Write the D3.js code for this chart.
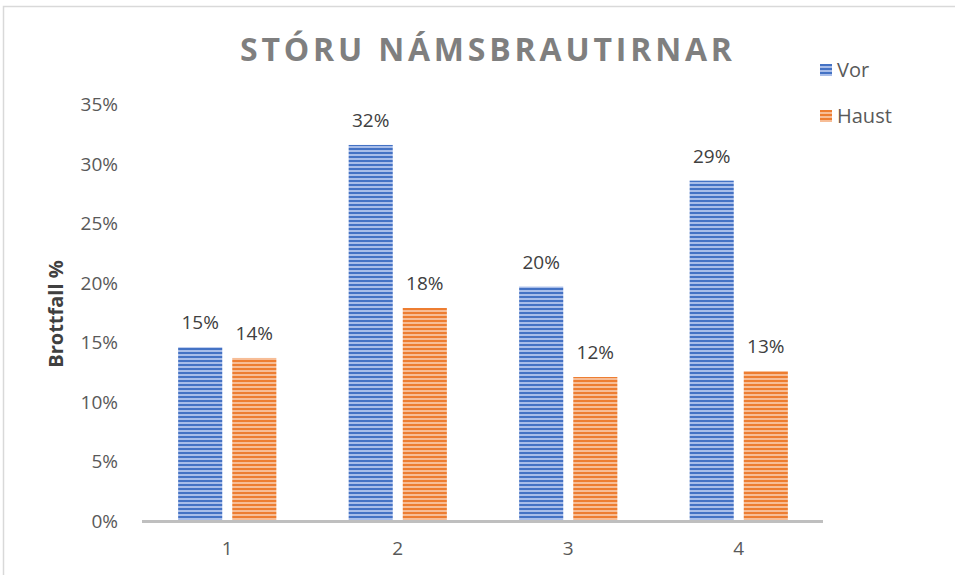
<!DOCTYPE html>
<html><head><meta charset="utf-8">
<script src="https://cdn.jsdelivr.net/npm/d3@7"></script>
<style>body{margin:0;background:#fff;} svg{display:block;font-family:"Open Sans",sans-serif;}</style>
</head><body><svg id="c" width="955" height="575"></svg>
<script>
const categories = ["1","2","3","4"];
const seriesNames = ["Vor","Haust"];
const vor = [14.6, 31.6, 19.7, 28.6];
const haust = [13.7, 17.9, 12.1, 12.6];
const yTicks = [0,5,10,15,20,25,30,35];
const title = "STÓRU NÁMSBRAUTIRNAR";
const yLabel = "Brottfall %";

const svg = d3.select("#c");
const colors = {Vor:["#4472C4","#a8bde9"], Haust:["#ED7D31","#f7bd96"]};
const defs = svg.append("defs");
seriesNames.forEach(s=>{
  const p = defs.append("pattern").attr("id","pat"+s).attr("patternUnits","userSpaceOnUse")
    .attr("width",8).attr("height",4);
  p.append("rect").attr("width",8).attr("height",4).attr("fill",colors[s][1]);
  p.append("rect").attr("width",8).attr("height",2).attr("fill",colors[s][0]);
});

// border
svg.append("path").attr("d","M3.5,575 L3.5,6.5 L955,6.5").attr("fill","none").attr("stroke","#d9d9d9").attr("stroke-width",1.5);

const x = d3.scaleBand().domain(categories).range([142,824]);
const y = d3.scaleLinear().domain([0,35]).range([521,104.5]);
const bw = x.bandwidth();
const xs = d3.scaleBand().domain(seriesNames).range([0.212*bw, 0.788*bw]).paddingInner(0.185);

// y axis labels
svg.append("g").selectAll("text").data(yTicks).join("text")
  .attr("x",118).attr("y",d=>y(d)).attr("dy","0.36em").attr("text-anchor","end")
  .attr("font-size",19).attr("fill","#595959").text(d=>d+"%");

const data = categories.map((c,i)=>({c, vals:[{s:"Vor",v:vor[i]},{s:"Haust",v:haust[i]}]}));
const g = svg.append("g").selectAll("g").data(data).join("g").attr("transform",d=>`translate(${x(d.c)},0)`);
g.selectAll("rect").data(d=>d.vals).join("rect")
  .attr("x",d=>xs(d.s)).attr("width",xs.bandwidth())
  .attr("y",d=>y(d.v)).attr("height",d=>y(0)-y(d.v))
  .attr("fill",d=>`url(#pat${d.s})`);
g.selectAll("text").data(d=>d.vals).join("text")
  .attr("x",d=>xs(d.s)+xs.bandwidth()/2).attr("y",d=>y(d.v)-18)
  .attr("text-anchor","middle").attr("font-size",19).attr("fill","#404040")
  .text(d=>Math.round(d.v)+"%");

// baseline
svg.append("line").attr("x1",142).attr("x2",823).attr("y1",y(0)+0.5).attr("y2",y(0)+0.5)
  .attr("stroke","#bfbfbf").attr("stroke-width",3);

// x labels
svg.append("g").selectAll("text").data(categories).join("text")
  .attr("x",d=>x(d)+x.bandwidth()/2).attr("y",555).attr("text-anchor","middle")
  .attr("font-size",19).attr("fill","#595959").text(d=>d);

// title, spread to the reference width
const t = svg.append("text").attr("x",486).attr("y",61).attr("text-anchor","middle")
  .attr("font-size",32).attr("font-weight","bold").attr("fill","#7f7f7f").text(title);
const w0 = t.node().getComputedTextLength();
const ls = Math.max(0,(492 - w0) / (title.length - 1));
t.attr("letter-spacing", ls).attr("x", 486 + ls/2);

// y label
svg.append("text").attr("transform","translate(63,314) rotate(-90)").attr("text-anchor","middle")
  .attr("font-size",20).attr("font-weight","bold").attr("fill","#404040").text(yLabel);

// legend
const lg = svg.append("g").selectAll("g").data(seriesNames).join("g")
  .attr("transform",(d,i)=>`translate(820,${64+i*46})`);
lg.append("rect").attr("width",12).attr("height",12).attr("fill",d=>`url(#pat${d})`);
lg.append("text").attr("x",17).attr("y",6).attr("dy","0.36em").attr("font-size",20).attr("fill","#595959").text(d=>d);
</script></body></html>
